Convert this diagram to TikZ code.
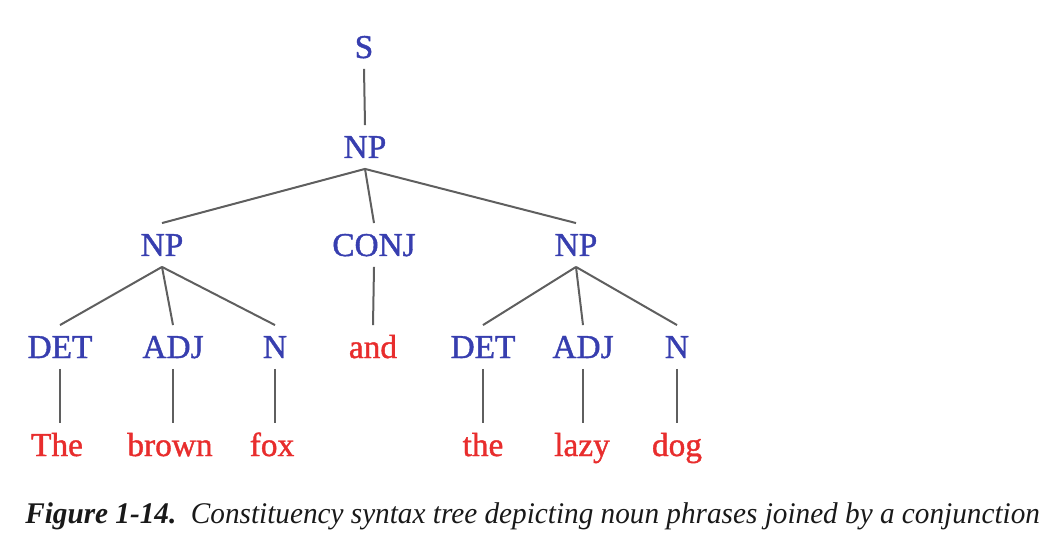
\documentclass[tikz,border=0pt]{standalone}
\usepackage{fontspec}
\setmainfont{Liberation Serif}
\newfontfamily\treefont{Liberation Serif}[FakeBold=1.2]
\usepackage{graphicx}
\definecolor{catblue}{RGB}{55,62,175}
\definecolor{wordred}{RGB}{232,45,45}
\definecolor{edgegray}{RGB}{95,95,95}
\definecolor{captext}{RGB}{25,25,25}
\begin{document}
\begin{tikzpicture}[x=0.75pt,y=-0.75pt,
  cat/.style={anchor=base, text=catblue, font=\treefont\fontsize{25}{30}\selectfont, text height=16.5pt, text depth=0pt, inner xsep=0pt, inner ysep=8pt},
  word/.style={cat, text=wordred},
  edge/.style={draw=edgegray, line width=1.5pt}]
\useasboundingbox (0,0) rectangle (1052,552);
% categories
\node[cat] (s) at (364,58) {S};
\node[cat] (np0) at (365,158) {NP};
\node[cat] (npl) at (162,256) {NP};
\node[cat] (conj) at (374,256) {CONJ};
\node[cat] (npr) at (576,256) {NP};
\node[cat] (det1) at (60,358) {DET};
\node[cat] (adj1) at (173,358) {ADJ};
\node[cat] (n1) at (275,358) {N};
\node[word] (and) at (373,358) {and};
\node[cat] (det2) at (483,358) {DET};
\node[cat] (adj2) at (583,358) {ADJ};
\node[cat] (n2) at (677,358) {N};
% words
\node[word] (w1) at (57,456) {The};
\node[word] (w2) at (170,456) {brown};
\node[word] (w3) at (272,456) {fox};
\node[word] (w4) at (483,456) {the};
\node[word] (w5) at (582,456) {lazy};
\node[word] (w6) at (677,456) {dog};
% edges
\draw[edge] (s.south) -- (np0.north);
\draw[edge] (np0.south) -- (npl.north);
\draw[edge] (np0.south) -- (conj.north);
\draw[edge] (np0.south) -- (npr.north);
\draw[edge] (npl.south) -- (det1.north);
\draw[edge] (npl.south) -- (adj1.north);
\draw[edge] (npl.south) -- (n1.north);
\draw[edge] (conj.south) -- (and.north);
\draw[edge] (npr.south) -- (det2.north);
\draw[edge] (npr.south) -- (adj2.north);
\draw[edge] (npr.south) -- (n2.north);
\draw[edge] (det1.south) -- (det1.south |- w1.north);
\draw[edge] (adj1.south) -- (adj1.south |- w2.north);
\draw[edge] (n1.south) -- (n1.south |- w3.north);
\draw[edge] (det2.south) -- (det2.south |- w4.north);
\draw[edge] (adj2.south) -- (adj2.south |- w5.north);
\draw[edge] (n2.south) -- (n2.south |- w6.north);
% caption
\node[anchor=base west, inner sep=0pt, text=captext] (cap) at (25,523)
  {\resizebox{761pt}{\height}{\fontsize{22.5}{27}\selectfont\bfseries\itshape Figure 1-14.\ \ \mdseries Constituency syntax tree depicting noun phrases joined by a conjunction}};
\end{tikzpicture}
\end{document}
